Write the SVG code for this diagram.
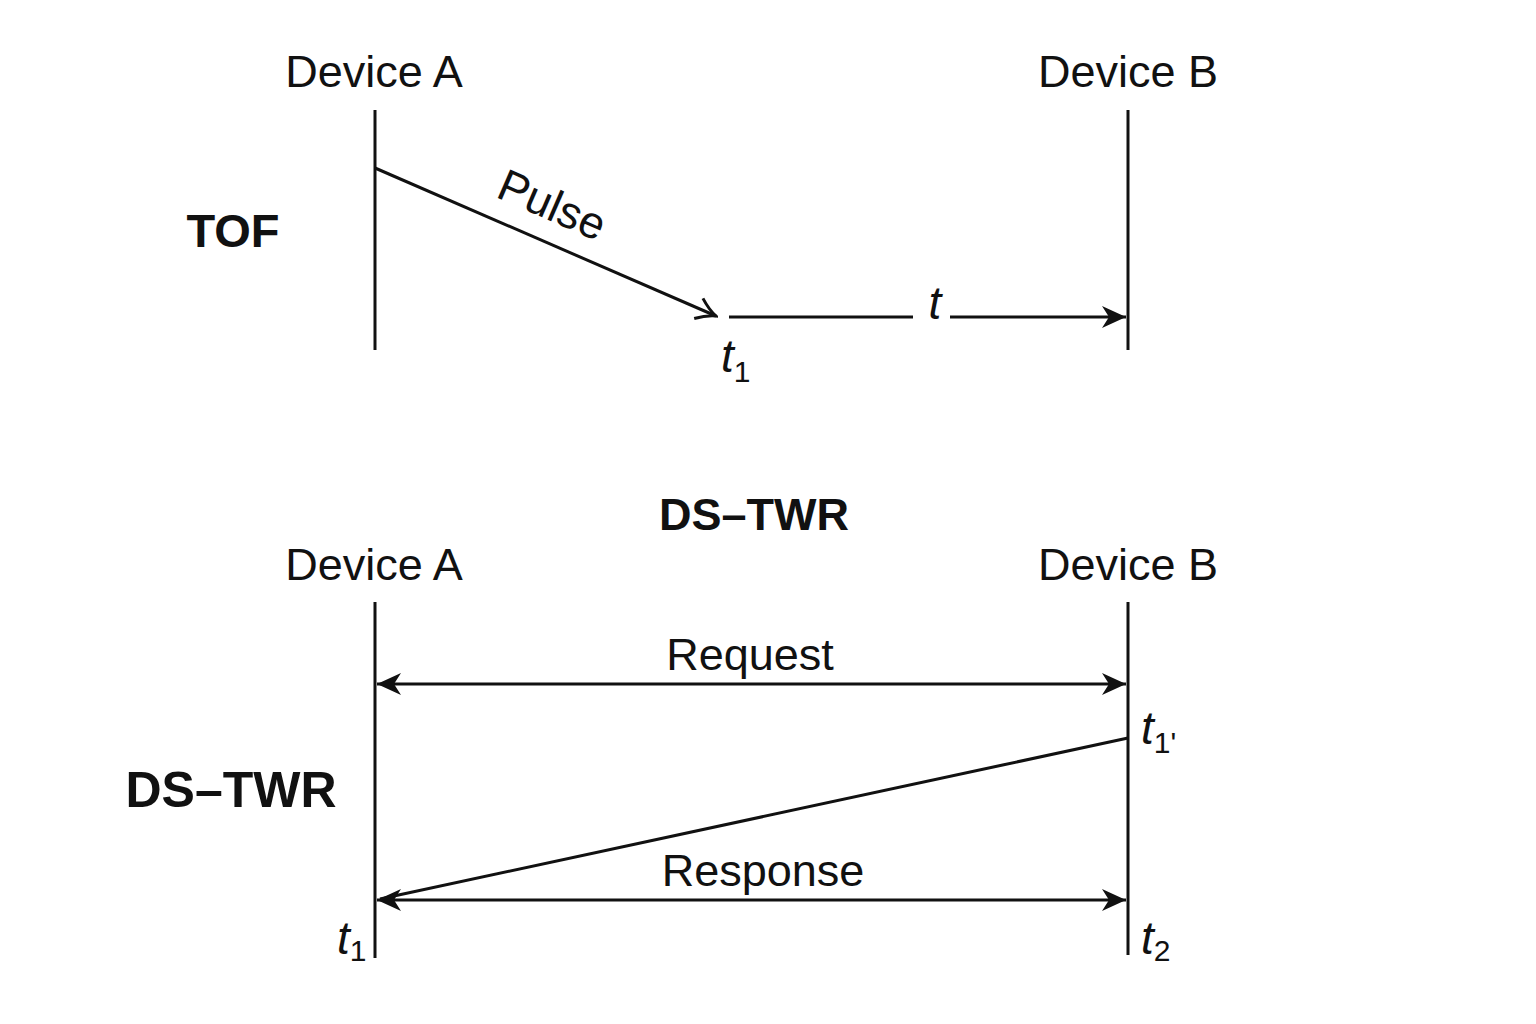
<svg xmlns="http://www.w3.org/2000/svg" width="1536" height="1024" viewBox="0 0 1536 1024">
<defs>
<marker id="open" viewBox="0 0 26 26" refX="24" refY="13" markerWidth="26" markerHeight="26" markerUnits="userSpaceOnUse" orient="auto">
<path d="M5,2 Q15,10 24,13 Q15,16 5,24" fill="none" stroke="#111" stroke-width="3"/>
</marker>
<marker id="fill" viewBox="0 0 28 24" refX="26" refY="12" markerWidth="28" markerHeight="24" markerUnits="userSpaceOnUse" orient="auto-start-reverse">
<path d="M2,1 L26,12 L2,23 L9,12 Z" fill="#111"/>
</marker>
</defs>
<style>
.ll{stroke:#111;stroke-width:3;fill:none}
.ar{stroke:#111;stroke-width:3;fill:none}
.lbl{font-family:"Liberation Sans",Arial,sans-serif;font-size:45px;fill:#111}
.ttl{font-family:"Liberation Sans",Arial,sans-serif;font-weight:bold;fill:#111}
.tm{font-family:"Liberation Sans",Arial,sans-serif;font-style:italic;font-size:46px;fill:#111}
.sub{font-family:"Liberation Sans",Arial,sans-serif;font-size:30px;fill:#111}
</style>
<rect width="1536" height="1024" fill="#fff"/>
<g id="tof-device-a">
<text class="lbl" x="374" y="87" text-anchor="middle">Device A</text>
<line class="ll" x1="375" y1="110" x2="375" y2="350"/>
</g>
<g id="tof-device-b">
<text class="lbl" x="1128" y="87" text-anchor="middle">Device B</text>
<line class="ll" x1="1128" y1="110" x2="1128" y2="350"/>
</g>
<g id="tof-label"><text class="ttl" font-size="47" x="233" y="247" text-anchor="middle">TOF</text></g>
<g id="dstwr-title"><text class="ttl" font-size="45" x="754" y="530" text-anchor="middle">DS–TWR</text></g>
<g id="dstwr-label"><text class="ttl" font-size="50" x="231" y="807" text-anchor="middle">DS–TWR</text></g>
<g id="dstwr-device-a">
<text class="lbl" x="374" y="580" text-anchor="middle">Device A</text>
<line class="ll" x1="375" y1="602" x2="375" y2="958"/>
</g>
<g id="dstwr-device-b">
<text class="lbl" x="1128" y="580" text-anchor="middle">Device B</text>
<line class="ll" x1="1128" y1="602" x2="1128" y2="955"/>
</g>
<g id="connectors">
<line class="ar" x1="375" y1="168" x2="716" y2="316" marker-end="url(#open)"/>
<line class="ar" x1="729" y1="317" x2="913" y2="317"/>
<line class="ar" x1="950" y1="317" x2="1126" y2="317" marker-end="url(#fill)"/>
<line class="ar" x1="377" y1="684" x2="1126" y2="684" marker-start="url(#fill)" marker-end="url(#fill)"/>
<line class="ar" x1="377" y1="900" x2="1126" y2="900" marker-start="url(#fill)" marker-end="url(#fill)"/>
<line class="ar" x1="1128" y1="738" x2="380" y2="899"/>
</g>
<g id="labels">
<text class="lbl" x="0" y="0" transform="translate(546,219) rotate(23.5)" text-anchor="middle">Pulse</text>
<text class="tm" x="935" y="319" text-anchor="middle">t</text>
<text class="tm" x="721" y="372">t<tspan class="sub" font-style="normal" dy="10">1</tspan></text>
<text class="lbl" x="750" y="670" text-anchor="middle">Request</text>
<text class="lbl" x="763" y="886" text-anchor="middle">Response</text>
<text class="tm" x="1141" y="744">t<tspan class="sub" font-style="normal" dy="9">1'</tspan></text>
<text class="tm" x="337" y="954">t<tspan class="sub" font-style="normal" dy="7">1</tspan></text>
<text class="tm" x="1141" y="954">t<tspan class="sub" font-style="normal" dy="7">2</tspan></text>
</g>
</svg>
